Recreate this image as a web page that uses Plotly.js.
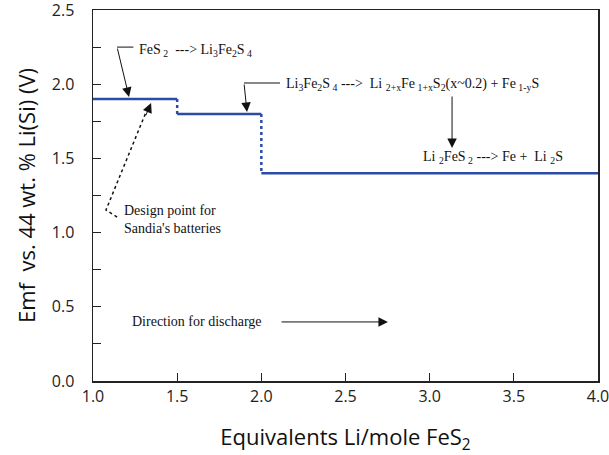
<!DOCTYPE html>
<html>
<head>
<meta charset="utf-8">
<script src="https://cdn.plot.ly/plotly-3.0.1.min.js"></script>
<style>html,body{margin:0;padding:0;background:#fff;}#chart{width:609px;height:455px;}</style>
</head>
<body>
<div id="chart"></div>
<script>
// Plateau data: start x, end x, voltage
const plateauStart = [1.0, 1.5, 2.0];
const plateauEnd   = [1.5, 2.0, 4.0];
const plateauV     = [1.9, 1.8, 1.4];

const xTicks = [1.0, 1.5, 2.0, 2.5, 3.0, 3.5, 4.0];
const yTicks = [0.0, 0.5, 1.0, 1.5, 2.0, 2.5];

// horizontal segments
const hx = [], hy = [];
for (let i = 0; i < plateauV.length; i++) {
  hx.push(plateauStart[i], plateauEnd[i], null);
  hy.push(plateauV[i], plateauV[i], null);
}
// vertical (dotted) drops
const vx = [], vy = [];
for (let i = 0; i < plateauV.length - 1; i++) {
  vx.push(plateauEnd[i], plateauEnd[i], null);
  vy.push(plateauV[i], plateauV[i + 1], null);
}

const blue = '#2b4ba6';
const serif = {family: '"Liberation Serif", "Times New Roman", serif', size: 14, color: '#111'};

const traces = [
  {x: hx, y: hy, mode: 'lines', line: {color: blue, width: 2.5}, hoverinfo: 'skip', showlegend: false},
  {x: vx, y: vy, mode: 'lines', line: {color: blue, width: 2.5, dash: 'dot'}, hoverinfo: 'skip', showlegend: false}
];

const shapes = [
  {type: 'line', xref: 'x', yref: 'y', x0: 1.143, y0: 2.25, x1: 1.24, y1: 2.25, line: {color: '#111', width: 1}},
  {type: 'line', xref: 'x', yref: 'y', x0: 1.897, y0: 2.008, x1: 2.111, y1: 2.008, line: {color: '#111', width: 1}},
  {type: 'path', xref: 'x', yref: 'y', path: 'M 1.143 1.105 L 1.077 1.152 L 1.318 1.82', line: {color: '#111', width: 1.5, dash: 'dot'}}
];

const arrowBase = {showarrow: true, arrowhead: 2, arrowsize: 1.9, arrowwidth: 1, arrowcolor: '#111', axref: 'x', ayref: 'y', xref: 'x', yref: 'y', text: ''};

const annotations = [
  Object.assign({}, arrowBase, {x: 1.214, y: 1.914, ax: 1.143, ay: 2.25}),
  Object.assign({}, arrowBase, {x: 1.915, y: 1.813, ax: 1.897, ay: 2.008}),
  Object.assign({}, arrowBase, {x: 3.133, y: 1.57, ax: 3.133, ay: 1.927}),
  Object.assign({}, arrowBase, {x: 1.345, y: 1.873, ax: 1.31, ay: 1.78}),
  Object.assign({}, arrowBase, {x: 2.752, y: 0.398, ax: 2.111, ay: 0.398}),
  {xref: 'x', yref: 'y', x: 1.261, y: 2.23, xanchor: 'left', yanchor: 'middle', showarrow: false, font: serif,
   text: 'FeS<sub> 2</sub>  ---> Li<sub>3</sub>Fe<sub>2</sub>S<sub> 4</sub>'},
  {xref: 'x', yref: 'y', x: 2.135, y: 1.995, xanchor: 'left', yanchor: 'middle', showarrow: false, font: serif,
   text: 'Li<sub>3</sub>Fe<sub>2</sub>S<sub> 4</sub> --->  Li <sub>2+x</sub>Fe<sub> 1+x</sub>S<sub>2</sub>(x~0.2) + Fe<sub> 1-y</sub>S'},
  {xref: 'x', yref: 'y', x: 2.949, y: 1.503, xanchor: 'left', yanchor: 'middle', showarrow: false, font: serif,
   text: 'Li <sub>2</sub>FeS<sub> 2</sub> ---> Fe +  Li <sub>2</sub>S'},
  {xref: 'x', yref: 'y', x: 1.172, y: 1.09, xanchor: 'left', yanchor: 'middle', align: 'left', showarrow: false, font: serif,
   text: 'Design point for<br>Sandia\'s batteries'},
  {xref: 'x', yref: 'y', x: 1.22, y: 0.398, xanchor: 'left', yanchor: 'middle', showarrow: false, font: serif,
   text: 'Direction for discharge'}
];

const tickFont = {family: '"Open Sans", "Noto Sans", sans-serif', size: 16, color: '#222'};
const titleFont = {family: '"Open Sans", "Noto Sans", sans-serif', size: 22, color: '#111'};

const layout = {
  width: 609, height: 455,
  margin: {l: 93, r: 11, t: 10, b: 74},
  paper_bgcolor: '#fff', plot_bgcolor: '#fff',
  showlegend: false,
  xaxis: {
    range: [1.0, 4.0], tickvals: xTicks, ticktext: xTicks.map(v => v.toFixed(1)),
    ticks: 'inside', ticklen: 8, tickcolor: '#222', tickwidth: 1.2,
    showline: true, linecolor: '#222', linewidth: 1.5, mirror: true,
    showgrid: false, zeroline: false, tickfont: tickFont, ticklabelstandoff: 0,
    ticklabeloverflow: 'allow',
    title: {text: 'Equivalents Li/mole FeS<sub>2</sub>', font: titleFont, standoff: 24}
  },
  yaxis: {
    range: [0, 2.5], tickvals: yTicks, ticktext: yTicks.map(v => v.toFixed(1)),
    ticks: 'inside', ticklen: 8, tickcolor: '#222', tickwidth: 1.2,
    minor: {dtick: 0.25, ticks: 'inside', ticklen: 8, tickcolor: '#222', tickwidth: 1.2, showgrid: false},
    showline: true, linecolor: '#222', linewidth: 1.5, mirror: true,
    showgrid: false, zeroline: false, tickfont: tickFont, ticklabelstandoff: 14,
    ticklabeloverflow: 'allow',
    title: {text: 'Emf  vs. 44 wt. % Li(Si) (V)', font: titleFont, standoff: 10}
  },
  shapes: shapes,
  annotations: annotations
};

Plotly.newPlot('chart', traces, layout, {displayModeBar: false, staticPlot: true});
</script>
</body>
</html>
